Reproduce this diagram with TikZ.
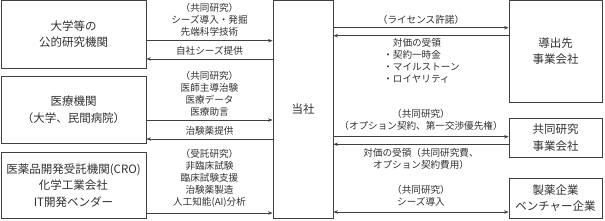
\documentclass[tikz,border=0pt]{standalone}
\usepackage{fontspec}
\newfontfamily\jp{Noto Sans CJK JP}
\usetikzlibrary{arrows.meta}
\definecolor{ln}{HTML}{404040}
\definecolor{tx}{HTML}{303030}
\tikzset{
  box/.style={draw=ln, line width=0.8pt, inner sep=0pt, align=center, text=tx,
    font=\jp\fontsize{11.5}{16.5}\selectfont},
  lbl/.style={inner sep=0pt, align=center, text=tx, font=\jp\fontsize{9.6}{12}\selectfont},
  conn/.style={draw=ln, line width=0.8pt},
  tip/.style={-{Stealth[length=4.5pt,width=3.5pt]}},
}
\begin{document}
\begin{tikzpicture}[x=1pt,y=-1pt]
\useasboundingbox (0,0) rectangle (605,220);
% boxes
\node[box, minimum width=145pt, minimum height=67.5pt] (b1) at (73.5,34.25) {大学等の\\公的研究機関};
\node[box, minimum width=145pt, minimum height=67pt] (b2) at (73.5,109.5) {医療機関\\（大学、民間病院）};
\node[box, minimum width=145pt, minimum height=66.5pt] (b3) at (73.5,185.25) {医薬品開発受託機関(CRO)\\化学工業会社\\IT開発ベンダー};
\node[box, minimum width=60pt, minimum height=218pt] (ts) at (303,109.5) {当社};
\node[box, minimum width=93pt, minimum height=101.5pt] (ra) at (555.5,51.25) {導出先\\事業会社};
\node[box, minimum width=93pt, minimum height=39pt] (rb) at (555.5,137.5) {共同研究\\事業会社};
\node[box, minimum width=93pt, minimum height=40pt] (rc) at (555.5,198) {製薬企業\\ベンチャー企業};
% left connectors
\draw[conn,tip] (b1.east |- 0,40.7) -- (ts.west |- 0,40.7);
\draw[conn,tip] (ts.west |- 0,59) -- (b1.east |- 0,59);
\draw[conn,tip] (b2.east |- 0,120) -- (ts.west |- 0,120);
\draw[conn,tip] (ts.west |- 0,139) -- (b2.east |- 0,139);
\draw[conn,tip] (b3.east |- 0,213) -- (ts.west |- 0,213);
% right connectors
\draw[conn,tip] (ts.east |- 0,27.7) -- (ra.west |- 0,27.7);
\draw[conn,tip] (ra.west |- 0,35.7) -- (ts.east |- 0,35.7);
\draw[conn,tip] (ts.east |- 0,136.7) -- (rb.west |- 0,136.7);
\draw[conn,tip] (rb.west |- 0,144.3) -- (ts.east |- 0,144.3);
\draw[conn,{Stealth[length=4.5pt,width=3.5pt]}-{Stealth[length=4.5pt,width=3.5pt]}] (ts.east |- 0,212) -- (rc.west |- 0,212);
% left labels
\node[lbl] (l1) at (209.5,20) {（共同研究）\\シーズ導入・発掘\\先端科学技術};
\node[lbl] (l2) at (209.5,51) {自社シーズ提供};
\node[lbl] (l3) at (209.5,93.5) {（共同研究）\\医師主導治験\\医療データ\\医療助言};
\node[lbl] (l4) at (209.5,131) {治験薬提供};
\node[lbl] (l5) at (209.5,178.5) {（受託研究）\\非臨床試験\\臨床試験支援\\治験薬製造\\人工知能(AI)分析};
% right labels
\node[lbl] (r1) at (421,19.5) {（ライセンス許諾）};
\node[lbl, align=left] (r2) at (421.5,61) {\hspace{1em}対価の受領\\・契約一時金\\・マイルストーン\\・ロイヤリティ};
\node[lbl] (r3) at (421,119.5) {（共同研究）\\（オプション契約、第一交渉優先権）};
\node[lbl] (r4) at (421,159) {対価の受領（共同研究費、\\オプション契約費用）};
\node[lbl] (r5) at (421,196) {（共同研究）\\シーズ導入};
\end{tikzpicture}
\end{document}
